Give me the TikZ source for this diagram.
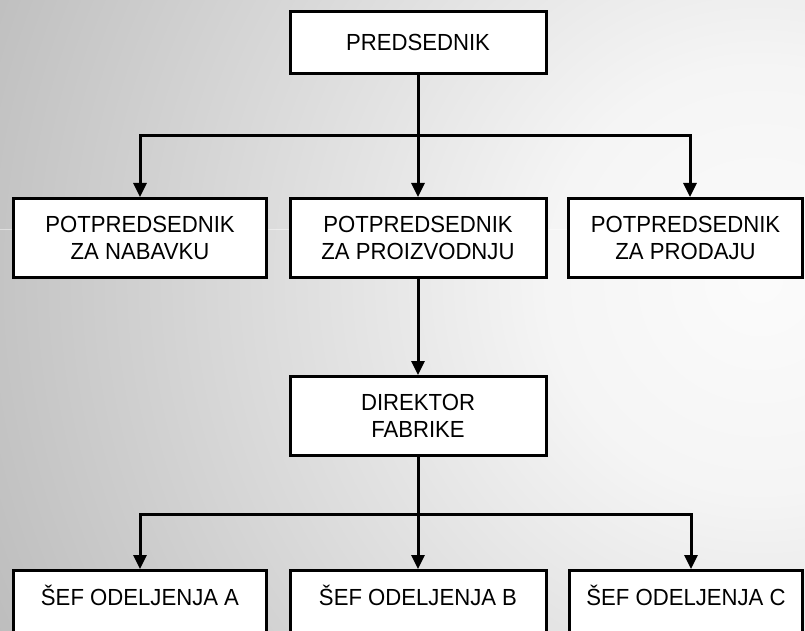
\documentclass[tikz,border=0pt]{standalone}
\usepackage{fontspec}
\setmainfont{Liberation Sans}[FakeStretch=0.95]
\usetikzlibrary{arrows.meta,calc}

% soft light glow on the right, darkening towards the left
\pgfdeclareradialshading{bgglow}{\pgfpoint{0bp}{0bp}}{%
  color(0bp)=(black!1.5);
  color(6.2bp)=(black!4);
  color(32.9bp)=(black!36);
  color(35.4bp)=(black!38);
  color(50bp)=(black!45)}

\begin{document}
\begin{tikzpicture}[x=1pt,y=-1pt,
  box/.style={draw=black, fill=white, line width=3pt, inner sep=0pt,
    align=center, font=\fontsize{23.3}{27}\selectfont},
  lowbox/.style={box, text height=16.7pt, text depth=26.7pt},
  conn/.style={line width=3pt, line join=miter},
  arr/.style={conn, -{Triangle[length=14pt,width=13pt]}}]

\useasboundingbox (0,0) rectangle (805,631);
\begin{scope}
\clip (0,0) rectangle (805,631);
\shade[shading=bgglow] (760,280) circle[radius=860];
\draw[white, opacity=0.45, line width=1pt] (0,229) -- (805,229);

% boxes
\node[box, minimum width=256pt, minimum height=62pt] (pred) at (418,42.5) {PREDSEDNIK};

\node[box, minimum width=253pt, minimum height=79pt] (nab) at (140,238) {POTPREDSEDNIK\\ZA NABAVKU};
\node[box, minimum width=256pt, minimum height=79pt] (proiz) at (418,238) {POTPREDSEDNIK\\ZA PROIZVODNJU};
\node[box, minimum width=234pt, minimum height=79pt] (prod) at (685.5,238) {POTPREDSEDNIK\\ZA PRODAJU};

\node[box, minimum width=256pt, minimum height=79pt] (dir) at (418,416) {DIREKTOR\\FABRIKE};

\node[lowbox, minimum width=253pt, minimum height=79pt] (sefa) at (140,610) {ŠEF ODELJENJA A};
\node[lowbox, minimum width=256pt, minimum height=79pt] (sefb) at (418,610) {ŠEF ODELJENJA B};
\node[lowbox, minimum width=233pt, minimum height=79pt] (sefc) at (686,610) {ŠEF ODELJENJA C};

% connectors
\coordinate (bar1) at (418,136);
\coordinate (bar2) at (418,514);

\draw[arr] (pred.south) -- (proiz.north);
\draw[arr] (bar1) -| (nab.north);
\draw[arr] (bar1) -| ([xshift=4.5pt]prod.north);

\draw[arr] (proiz.south) -- (dir.north);

\draw[arr] (dir.south) -- (sefb.north);
\draw[arr] (bar2) -| (sefa.north);
\draw[arr] (bar2) -| ([xshift=5pt]sefc.north);
\end{scope}
\end{tikzpicture}
\end{document}
